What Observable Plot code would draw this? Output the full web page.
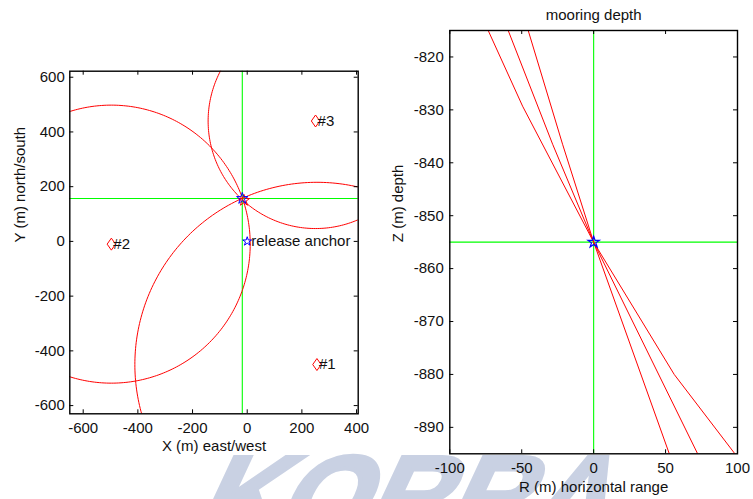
<!DOCTYPE html>
<html>
<head>
<meta charset="utf-8">
<script src="https://cdn.jsdelivr.net/npm/d3@7"></script>
<script src="https://cdn.jsdelivr.net/npm/@observablehq/plot@0.6"></script>
<style>
  html, body { margin: 0; padding: 0; background: #fff; width: 753px; height: 499px; overflow: hidden; }
  #wrap { position: relative; width: 753px; height: 499px; overflow: hidden; }
  #wm {
    position: absolute; left: 191px; top: 440px;
    font: bold 112px "Liberation Sans", Arial, sans-serif;
    line-height: 1; color: #c9d1e3; white-space: nowrap;
    -webkit-text-stroke: 4px #c9d1e3;
    transform: skewX(-25deg); transform-origin: 0 94.8px;
  }
  #wrap svg { position: absolute; left: 0; top: 0; background: transparent; }
</style>
</head>
<body>
<div id="wrap">
  <div id="wm">KORRA</div>
</div>
<script>
// ---- Plan view: transponder positions (m) and measured slant ranges (m)
const beaconNames = ["#1", "#2", "#3"];
const beaconX = [255, -497, 250];
const beaconY = [-450, -10, 440];
const beaconRange = [666, 508, 393];

// Surveyed mooring position (crosshair) and trilaterated solution
const mooringX = -18;
const mooringY = 157;
const solvedX = -12;
const solvedY = 150;

// Anchor release point
const anchorLabel = "release anchor";
const anchorX = 0;
const anchorY = 0;

const planXTicks = [-600, -400, -200, 0, 200, 400];
const planYTicks = [-600, -400, -200, 0, 200, 400, 600];

// ---- Depth view: horizontal range vs depth for each ranging path
const pathId = ["a", "a", "a", "a", "a", "b", "b", "b", "b", "c", "c", "c", "c"];
const pathR = [-73.3, -49.4, 0, 56.0, 98.2, -59.4, -28.5, 0, 72.3, -45.5, -21.6, 0, 52.6];
const pathZ = [-815, -829.3, -855, -880, -895, -815, -836.5, -855, -895, -815, -836.5, -855, -895];
const mooringR = 0;
const mooringZ = -855;

const rangeTicks = [-100, -50, 0, 50, 100];
const depthTicks = [-890, -880, -870, -860, -850, -840, -830, -820];

// ---- Shared styling
const W = 753, H = 499;
const RED = "#ff0000", GREEN = "#00ff00", BLUE = "#0000ff";
const baseStyle = {
  background: "transparent",
  fontFamily: "'Liberation Sans', Arial, sans-serif",
  fontSize: "15px",
  color: "#000",
  overflow: "visible"
};
const fmt = d => String(d);

// Narrow diamond marker (taller than wide)
const diamond = {
  draw(ctx, size) {
    const r = Math.sqrt(size / Math.PI), w = r * 0.7;
    ctx.moveTo(0, -r); ctx.lineTo(w, 0); ctx.lineTo(0, r); ctx.lineTo(-w, 0); ctx.closePath();
  }
};

// Range circles around each transponder
const circles = [];
beaconNames.forEach((name, i) => {
  for (let a = 0; a <= 360; a += 1) {
    const t = a * Math.PI / 180;
    circles.push({name, x: beaconX[i] + beaconRange[i] * Math.cos(t), y: beaconY[i] + beaconRange[i] * Math.sin(t)});
  }
});
const beacons = beaconNames.map((name, i) => ({name, x: beaconX[i], y: beaconY[i]}));

// Inward ticks on all four sides of a frame
function boxTicks(xt, yt, innerW, innerH, len) {
  return [
    Plot.tickX(xt, {x: d => d, insetTop: innerH - len, stroke: "#000"}),
    Plot.tickX(xt, {x: d => d, insetBottom: innerH - len, stroke: "#000"}),
    Plot.tickY(yt, {y: d => d, insetRight: innerW - len, stroke: "#000"}),
    Plot.tickY(yt, {y: d => d, insetLeft: innerW - len, stroke: "#000"})
  ];
}

// ---- Left panel: plan view
const L = {left: 69.3, right: 357.7, top: 70.7, bottom: 413.3};
const planPlot = Plot.plot({
  width: W, height: H,
  marginLeft: L.left, marginRight: W - L.right, marginTop: L.top, marginBottom: H - L.bottom,
  x: {domain: [-649, 406], label: null},
  y: {domain: [-630, 622], label: null},
  style: baseStyle,
  marks: [
    Plot.ruleY([mooringY], {y: d => d, stroke: GREEN, strokeWidth: 1.1}),
    Plot.ruleX([mooringX], {x: d => d, stroke: GREEN, strokeWidth: 1.1}),
    Plot.line(circles, {x: "x", y: "y", z: "name", stroke: RED, strokeWidth: 1, clip: true}),
    Plot.dot(beacons, {x: "x", y: "y", symbol: diamond, r: 6, stroke: RED, fill: "none", strokeWidth: 1}),
    Plot.text(beacons, {x: "x", y: "y", text: "name", textAnchor: "start", dx: 2, fill: "#111"}),
    Plot.dot([{x: solvedX, y: solvedY}], {x: "x", y: "y", symbol: "star", r: 3.6, stroke: RED, fill: "none", strokeWidth: 1}),
    Plot.dot([{x: mooringX, y: mooringY}], {x: "x", y: "y", symbol: "star", r: 3.6, stroke: BLUE, fill: "none", strokeWidth: 1}),
    Plot.dot([{x: anchorX, y: anchorY}], {x: "x", y: "y", symbol: "star", r: 2.8, stroke: BLUE, fill: "none", strokeWidth: 1}),
    Plot.text([{x: anchorX, y: anchorY}], {x: "x", y: "y", text: () => anchorLabel, textAnchor: "start", dx: 4, fill: "#111"}),
    ...boxTicks(planXTicks, planYTicks, L.right - L.left, L.bottom - L.top, 4),
    Plot.frame({stroke: "#000", strokeWidth: 1.4}),
    Plot.axisX(planXTicks, {tickSize: 0, tickPadding: 9, tickFormat: fmt, label: null, fill: "#111"}),
    Plot.axisY(planYTicks, {tickSize: 0, tickPadding: 5, tickFormat: fmt, label: null, fill: "#111"}),
    Plot.text(["X (m) east/west"], {text: d => d, frameAnchor: "bottom", lineAnchor: "middle", dy: 32.4, fill: "#111"}),
    Plot.text(["Y (m) north/south"], {text: d => d, frameAnchor: "left", lineAnchor: "middle", dx: -50, rotate: -90, fill: "#111"})
  ]
});

// ---- Right panel: depth view
const R = {left: 449.3, right: 737, top: 30, bottom: 453.3};
const paths = pathId.map((id, i) => ({id, r: pathR[i], z: pathZ[i]}));
const depthPlot = Plot.plot({
  width: W, height: H,
  marginLeft: R.left, marginRight: W - R.right, marginTop: R.top, marginBottom: H - R.bottom,
  x: {domain: [-100, 100], label: null},
  y: {domain: [-895, -815], label: null},
  style: baseStyle,
  marks: [
    Plot.ruleY([mooringZ], {y: d => d, stroke: GREEN, strokeWidth: 1.1}),
    Plot.ruleX([mooringR], {x: d => d, stroke: GREEN, strokeWidth: 1.1}),
    Plot.line(paths, {x: "r", y: "z", z: "id", stroke: RED, strokeWidth: 1, clip: true}),
    Plot.dot([{r: mooringR, z: mooringZ}], {x: "r", y: "z", symbol: "star", r: 3.6, stroke: BLUE, fill: "none", strokeWidth: 1.2}),
    ...boxTicks(rangeTicks, depthTicks, R.right - R.left, R.bottom - R.top, 4),
    Plot.frame({stroke: "#000", strokeWidth: 1.4}),
    Plot.axisX(rangeTicks, {tickSize: 0, tickPadding: 9, tickFormat: fmt, label: null, fill: "#111"}),
    Plot.axisY(depthTicks, {tickSize: 0, tickPadding: 6, tickFormat: fmt, label: null, fill: "#111"}),
    Plot.text(["R (m) horizontal range"], {text: d => d, frameAnchor: "bottom", lineAnchor: "middle", dy: 33.4, fill: "#111"}),
    Plot.text(["Z (m) depth"], {text: d => d, frameAnchor: "left", lineAnchor: "middle", dx: -51.3, rotate: -90, fill: "#111"}),
    Plot.text(["mooring depth"], {text: d => d, frameAnchor: "top", lineAnchor: "middle", dy: -15.3, fontSize: 15, fill: "#111"})
  ]
});

const wrap = document.getElementById("wrap");
wrap.appendChild(planPlot);
wrap.appendChild(depthPlot);
</script>
</body>
</html>
